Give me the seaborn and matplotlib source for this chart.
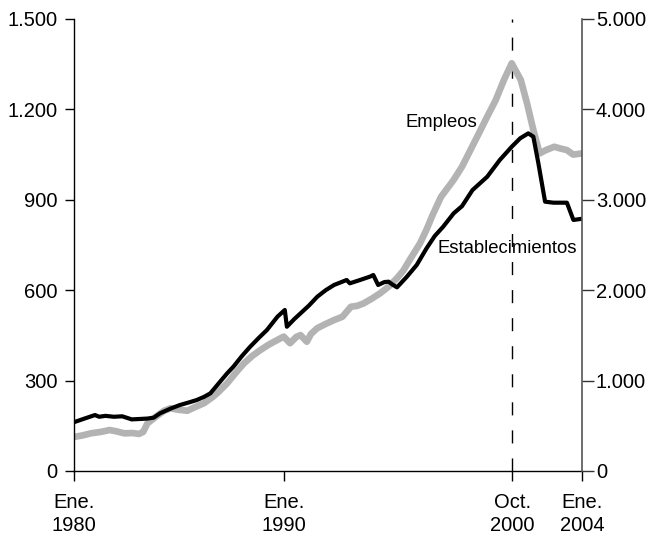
import numpy as np
import pandas as pd
import matplotlib
matplotlib.use("Agg")
import matplotlib.pyplot as plt
import seaborn as sns

sns.set_style("ticks")
plt.rcParams["font.family"] = ["Liberation Sans", "DejaVu Sans"]
plt.rcParams["text.color"] = "black"
plt.rcParams["xtick.labelcolor"] = "black"
plt.rcParams["ytick.labelcolor"] = "black"

# ---------------------------------------------------------------
# Data
# ---------------------------------------------------------------
# Empleos (miles) -> left axis
emp_year = [1980.0, 1980.4, 1980.8, 1981.3, 1981.7, 1982.0, 1982.4, 1982.8, 1983.1, 1983.3,
            1983.5, 1983.9, 1984.3, 1984.6, 1985.0, 1985.4, 1985.8, 1986.2, 1986.6, 1986.9,
            1987.3, 1987.7, 1988.1, 1988.5, 1988.9, 1989.3, 1989.7, 1990.0, 1990.3, 1990.6,
            1990.8, 1991.1, 1991.3, 1991.6, 1992.0, 1992.4, 1992.8, 1993.2, 1993.5, 1993.8,
            1994.2, 1994.6, 1995.0, 1995.4, 1995.7, 1996.0, 1996.5, 1996.8, 1997.1, 1997.5,
            1998.1, 1998.5, 1998.9, 1999.3, 1999.7, 2000.1, 2000.5, 2000.87, 2001.3, 2001.6,
            2001.9, 2002.2, 2002.5, 2002.9, 2003.2, 2003.5, 2003.8, 2004.22]
emp_value = [113, 118, 125, 130, 136, 132, 125, 126, 123, 130,
             158, 180, 200, 208, 203, 200, 213, 225, 245, 263,
             291, 325, 357, 382, 402, 420, 435, 446, 424, 445,
             451, 429, 455, 474, 488, 501, 512, 545, 548, 556,
             572, 590, 612, 640, 665, 700, 756, 800, 850, 910,
             966, 1010, 1065, 1120, 1176, 1230, 1298, 1353, 1298, 1220,
             1132, 1054, 1065, 1076, 1070, 1065, 1050, 1054]

# Establecimientos -> right axis
est_year = [1980.0, 1980.5, 1981.0, 1981.2, 1981.5, 1981.9, 1982.3, 1982.75, 1983.1, 1983.5,
            1983.8, 1984.1, 1984.6, 1985.05, 1985.5, 1985.85, 1986.2, 1986.5, 1986.9, 1987.3,
            1987.6, 1988.0, 1988.4, 1988.8, 1989.2, 1989.7, 1990.05, 1990.15, 1990.5, 1990.8,
            1991.2, 1991.6, 1992.0, 1992.4, 1993.0, 1993.15, 1993.6, 1994.1, 1994.27, 1994.5,
            1994.8, 1995.0, 1995.2, 1995.4, 1995.87, 1996.34, 1996.8, 1997.2, 1997.6, 1998.1,
            1998.5, 1999.0, 1999.7, 2000.3, 2000.87, 2001.27, 2001.66, 2001.9, 2002.14, 2002.46,
            2002.86, 2003.5, 2003.81, 2004.22]
est_value = [540, 580, 619, 600, 610, 600, 605, 571, 575, 580,
             590, 638, 690, 730, 760, 785, 820, 859, 970, 1080,
             1154, 1270, 1375, 1470, 1560, 1707, 1781, 1596, 1680, 1744,
             1830, 1928, 2000, 2058, 2113, 2076, 2110, 2149, 2168, 2058,
             2090, 2094, 2060, 2032, 2149, 2279, 2460, 2600, 2702, 2850,
             2930, 3108, 3255, 3440, 3587, 3680, 3735, 3698, 3404, 2979,
             2968, 2968, 2777, 2790]

x_ticks = [1980, 1990, 2000.9, 2004.22]
x_labels = ["Ene.\n1980", "Ene.\n1990", "Oct.\n2000", "Ene.\n2004"]
left_ticks = [0, 300, 600, 900, 1200, 1500]
left_labels = ["0", "300", "600", "900", "1.200", "1.500"]
right_ticks = [0, 1000, 2000, 3000, 4000, 5000]
right_labels = ["0", "1.000", "2.000", "3.000", "4.000", "5.000"]

emp = pd.DataFrame({"year": emp_year, "value": emp_value})
est = pd.DataFrame({"year": est_year, "value": est_value})

# ---------------------------------------------------------------
# Figure
# ---------------------------------------------------------------
fig = plt.figure(figsize=(6.53, 5.36), dpi=100)
ax = fig.add_axes([74 / 653, 65 / 536, 508 / 653, 452 / 536])
ax2 = ax.twinx()

sns.lineplot(data=emp, x="year", y="value", ax=ax, color="#b3b3b3",
             linewidth=4.8, estimator=None, sort=False)
sns.lineplot(data=est, x="year", y="value", ax=ax2, color="black",
             linewidth=3.0, estimator=None, sort=False)

ax.axvline(x_ticks[2], color="black", linewidth=1.0,
           linestyle=(0, (9.4, 10.8)), zorder=1)

ax.set_xlim(1980, 2004.22)
ax.set_ylim(0, 1500)
ax2.set_ylim(0, 5000)

ax.set_xticks(x_ticks)
ax.set_xticklabels(x_labels, fontsize=14.5, linespacing=1.25)
ax.set_yticks(left_ticks)
ax.set_yticklabels(left_labels, fontsize=14.5)
ax2.set_yticks(right_ticks)
ax2.set_yticklabels(right_labels, fontsize=14.5)

ax.set_xlabel("")
ax.set_ylabel("")
ax2.set_xlabel("")
ax2.set_ylabel("")

for a in (ax, ax2):
    a.spines["top"].set_visible(False)
ax.spines["right"].set_visible(False)
ax2.spines["left"].set_visible(False)
ax2.spines["bottom"].set_visible(False)
ax2.spines["right"].set_color("#555555")
for s in ("left", "bottom"):
    ax.spines[s].set_color("black")
    ax.spines[s].set_linewidth(1.0)
ax2.spines["right"].set_linewidth(1.2)

ax.tick_params(axis="y", direction="out", length=6.5, width=1.0, pad=5.5,
               color="black", labelcolor="black")
ax.tick_params(axis="x", direction="out", length=7.2, width=1.0, pad=8.5,
               color="black", labelcolor="black")
ax2.tick_params(axis="y", direction="out", length=8.5, width=1.0, pad=1.5,
                color="#333333", labelcolor="black")

ax.text(1997.5, 1158, "Empleos", fontsize=13.3, ha="center", va="center", color="black")
ax.text(2000.65, 737, "Establecimientos", fontsize=13.3, ha="center", va="center",
        color="black")

fig.savefig("out.png", dpi=100)
